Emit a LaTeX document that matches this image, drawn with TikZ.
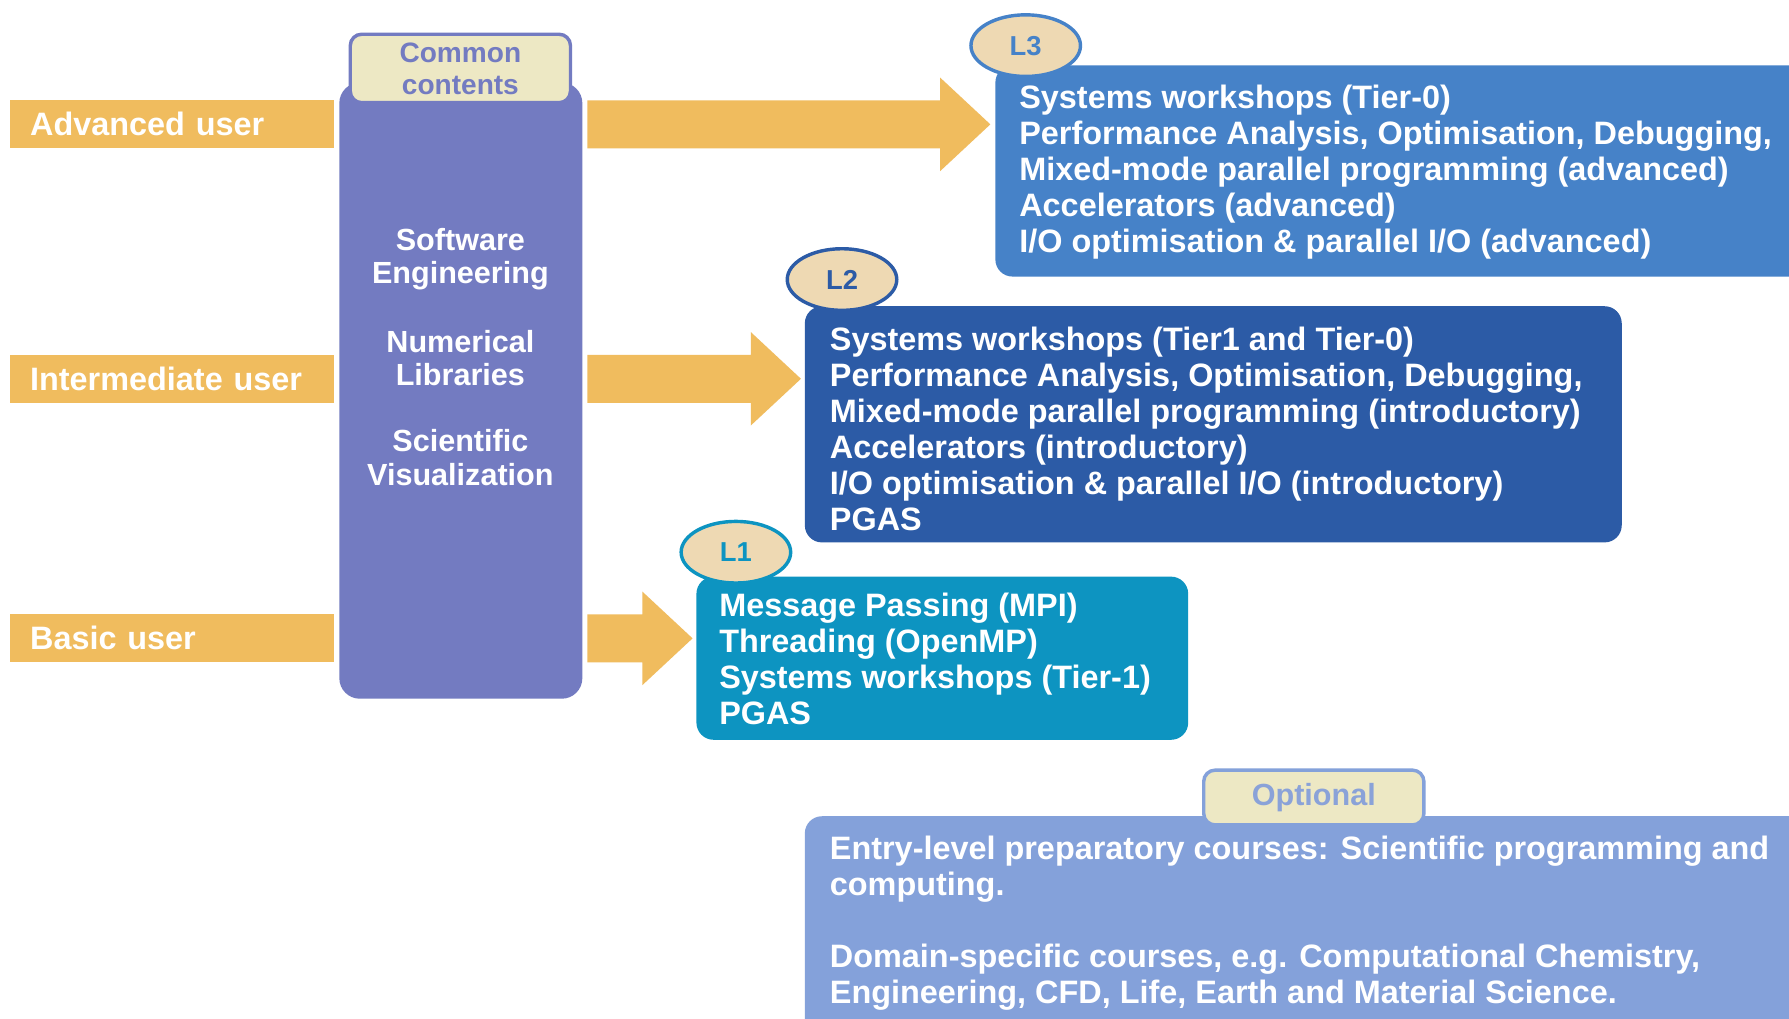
\documentclass[tikz,border=0pt]{standalone}
\usepackage{fontspec}
\setmainfont{Liberation Sans}
\usetikzlibrary{calc,shapes.geometric}

\definecolor{barc}{RGB}{240,188,94}
\definecolor{colc}{RGB}{115,123,193}
\definecolor{creamc}{RGB}{237,232,196}
\definecolor{lthree}{RGB}{70,130,200}
\definecolor{ltwo}{RGB}{44,91,166}
\definecolor{lone}{RGB}{13,148,193}
\definecolor{optc}{RGB}{132,161,218}
\definecolor{badgec}{RGB}{238,217,179}
\definecolor{opttext}{RGB}{138,162,216}

% block arrow from #1 (start of shaft) to #2 (tip)
\newcommand\blockarrow[2]{%
  \fill[barc] ($(#1)+(0,-21)$) -- ($(#2)+(-44,-21)$) -- ($(#2)+(-44,-41)$) -- (#2)
    -- ($(#2)+(-44,41)$) -- ($(#2)+(-44,21)$) -- ($(#1)+(0,21)$) -- cycle;}
% fixed height of the first line, so a text block's top sits 11pt above its first baseline
\newcommand\firstline{\rule{0pt}{11pt}}

\begin{document}
\begin{tikzpicture}[x=0.5pt,y=-0.5pt,
  every node/.style={font=\bfseries\fontsize{14.2}{15.75}\selectfont},
  bar/.style={fill=barc, text=white, minimum width=142pt, minimum height=21pt,
    inner xsep=9pt, text width=124pt, align=left, anchor=west},
  panel/.style={rounded corners=7.5pt, anchor=north west, inner sep=0pt},
  body/.style={text=white, align=left, anchor=north west, inner sep=0pt},
  coltext/.style={text=white, align=center, inner sep=0pt,
    font=\bfseries\fontsize{13.4}{14.6}\selectfont},
  badge/.style={ellipse, fill=badgec, line width=1.5pt, minimum width=48pt,
    minimum height=27pt, inner sep=0pt, font=\bfseries\fontsize{12}{14}\selectfont},
  tab/.style={rounded corners=5pt, fill=creamc, line width=1.5pt,
    minimum width=96.5pt, inner sep=0pt, align=center},
]
\useasboundingbox[fill=white] (0,0) rectangle (1568,893);

% user levels
\node[bar] (adv) at (8,109) {Advanced user};
\node[bar] (int) at (8,332) {Intermediate user};
\node[bar] (bas) at (8,559.5) {Basic user};

% common contents column
\node[panel, rounded corners=9pt, fill=colc, minimum width=106.5pt, minimum height=270pt] (col) at (297,72) {};
\node[tab, draw=colc, minimum height=30pt, text=colc,
  font=\bfseries\fontsize{12.3}{14}\selectfont] (common) at (403.5,60) {Common\\contents};
\node[coltext] (se) at (403.5,227) {Software\\Engineering};
\node[coltext] (nl) at (403.5,314) {Numerical\\Libraries};
\node[coltext] (sv) at (403.5,401) {Scientific\\Visualization};

% level L3
\node[panel, fill=lthree, minimum width=364pt, minimum height=92.5pt] (l3) at (872,57) {};
\node[body] (l3txt) at (893,73) {\firstline Systems workshops (Tier-0)\\
  Performance Analysis, Optimisation, Debugging,\\
  Mixed-mode parallel programming (advanced)\\
  Accelerators (advanced)\\
  I/O optimisation \& parallel I/O (advanced)};
\node[badge, draw=lthree, text=lthree] (b3) at (899,40) {L3};

% level L2
\node[panel, fill=ltwo, minimum width=358pt, minimum height=103.5pt] (l2) at (705,268) {};
\node[body] (l2txt) at (727,285) {\firstline Systems workshops (Tier1 and Tier-0)\\
  Performance Analysis, Optimisation, Debugging,\\
  Mixed-mode parallel programming (introductory)\\
  Accelerators (introductory)\\
  I/O optimisation \& parallel I/O (introductory)\\
  PGAS};
\node[badge, draw=ltwo, text=ltwo] (b2) at (738,245) {L2};

% level L1
\node[panel, fill=lone, minimum width=215.5pt, minimum height=71.5pt] (l1) at (610,505) {};
\node[body] (l1txt) at (630,518) {\firstline Message Passing (MPI)\\
  Threading (OpenMP)\\
  Systems workshops (Tier-1)\\
  PGAS};
\node[badge, draw=lone, text=lone] (b1) at (645,484) {L1};

% optional courses
\node[panel, fill=optc, minimum width=450pt, minimum height=110pt] (opt) at (705,715) {};
\node[body] (opttxt) at (727,731) {\firstline Entry-level preparatory courses: Scientific programming and\\
  computing.\\[15.75pt]
  Domain-specific courses, e.g. Computational Chemistry,\\
  Engineering, CFD, Life, Earth and Material Science.};
\node[tab, draw=optc, minimum height=24pt, text=opttext,
  font=\bfseries\fontsize{13.4}{15}\selectfont] (opttab) at (1151.5,699) {Optional};

% arrows from the common column to each level
\coordinate (a1s) at ($(col.east|-adv.center)+(4,0)$);
\coordinate (a1t) at ($(l3.west|-adv.center)+(-4,0)$);
\coordinate (a2s) at ($(col.east|-int.center)+(4,0)$);
\coordinate (a2t) at ($(l2.west|-int.center)+(-3,0)$);
\coordinate (a3s) at ($(col.east|-bas.center)+(4,0)$);
\coordinate (a3t) at ($(l1.west|-bas.center)+(-3,0)$);
\blockarrow{a1s}{a1t}
\blockarrow{a2s}{a2t}
\blockarrow{a3s}{a3t}
\end{tikzpicture}
\end{document}
